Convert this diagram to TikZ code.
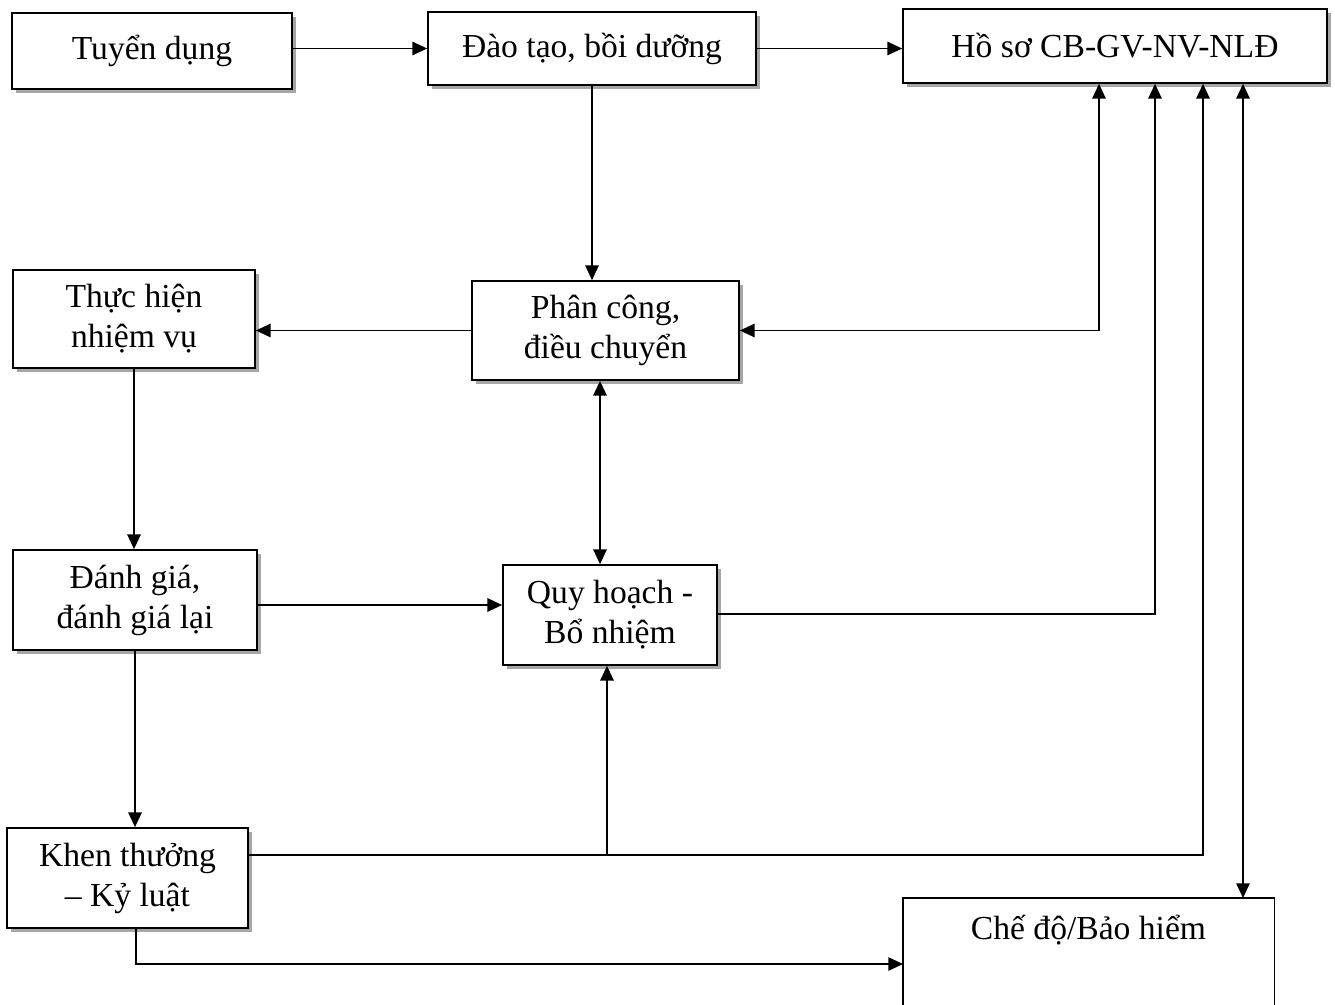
\documentclass[tikz,border=0pt]{standalone}
\usepackage{fontspec}
\setmainfont{Liberation Serif}
\usetikzlibrary{arrows.meta,shadows,calc}
\begin{document}
\begin{tikzpicture}[x=0.75pt,y=-0.75pt,
  txt/.style={font=\fontsize{25.2}{30}\selectfont, align=center},
  box/.style={txt, draw=black, line width=1.3pt, fill=white, inner sep=0pt,
    drop shadow={shadow xshift=3.3pt, shadow yshift=-3.3pt, fill=gray!70, opacity=1}},
  ln/.style={line width=1.3pt},
  arr/.style={ln, -{Triangle[length=11pt,width=10pt]}},
  dbl/.style={ln, {Triangle[length=11pt,width=10pt]}-{Triangle[length=11pt,width=10pt]}}]
\useasboundingbox[fill=white] (0,0) rectangle (1335,1004);

% boxes
\node[box, minimum width=210pt, minimum height=57pt] (td) at (152,51) {Tuyển dụng};
\node[box, minimum width=246pt, minimum height=54.75pt] (dt) at (592,48.5) {Đào tạo, bồi dưỡng};
\node[box, minimum width=318pt, minimum height=55.5pt] (hs) at (1115,46) {Hồ sơ CB-GV-NV-NLĐ};
\node[box, minimum width=181.5pt, minimum height=73.5pt] (th) at (134,319) {Thực hiện\\nhiệm vụ};
\node[box, minimum width=200.25pt, minimum height=74.25pt] (pc) at (605.5,330.5) {Phân công,\\điều chuyển};
\node[box, minimum width=183pt, minimum height=75pt] (dg) at (135,600) {Đánh giá,\\đánh giá lại};
\node[box, minimum width=160.5pt, minimum height=75pt] (qh) at (610,615) {Quy hoạch -\\Bổ nhiệm};
\node[box, minimum width=180.75pt, minimum height=75pt] (kt) at (127.5,878) {Khen thưởng\\– Kỷ luật};

% bottom-right box, cut by the page edge
\node[minimum width=278.25pt, minimum height=79.5pt, inner sep=0pt, anchor=north west] (cd) at (903,898) {};
\draw[ln] (cd.south west) -- (cd.north west) -- (cd.north east) -- (cd.south east);
\node[txt] (cdt) at (1088.5,930) {Chế độ/Bảo hiểm};

% connector coordinates
\coordinate (c1) at (1099,330.5);
\coordinate (c2) at (1155,614);
\coordinate (c3) at (1203,855);
\coordinate (c3b) at (607,855);
\coordinate (c4) at (1243,0);
\coordinate (c5) at (0,605);
\coordinate (c6) at (600,0);
\coordinate (c7) at (136,964);

% connectors
\draw[arr] (td.east |- dt.west) -- (dt.west);
\draw[arr] (dt.east) -- (hs.west |- dt.east);
\draw[arr] (dt.south) -- (dt.south |- pc.north);
\draw[arr] (pc.west) -- (th.east |- pc.west);
\draw[dbl] (pc.east) -- (c1) -- (c1 |- hs.south);
\draw[arr] (qh.east |- c2) -- (c2) -- (c2 |- hs.south);
\draw[arr] (kt.east |- c3) -- (c3) -- (c3 |- hs.south);
\draw[arr] (c3b) -- (c3b |- qh.south);
\draw[dbl] (c4 |- hs.south) -- (c4 |- cd.north);
\draw[arr] (th.south) -- (th.south |- dg.north);
\draw[arr] (dg.east |- c5) -- (qh.west |- c5);
\draw[dbl] (c6 |- pc.south) -- (c6 |- qh.north);
\draw[arr] (dg.south) -- (dg.south |- kt.north);
\draw[arr] (kt.south -| c7) -- (c7) -- (cd.west |- c7);
\end{tikzpicture}
\end{document}
